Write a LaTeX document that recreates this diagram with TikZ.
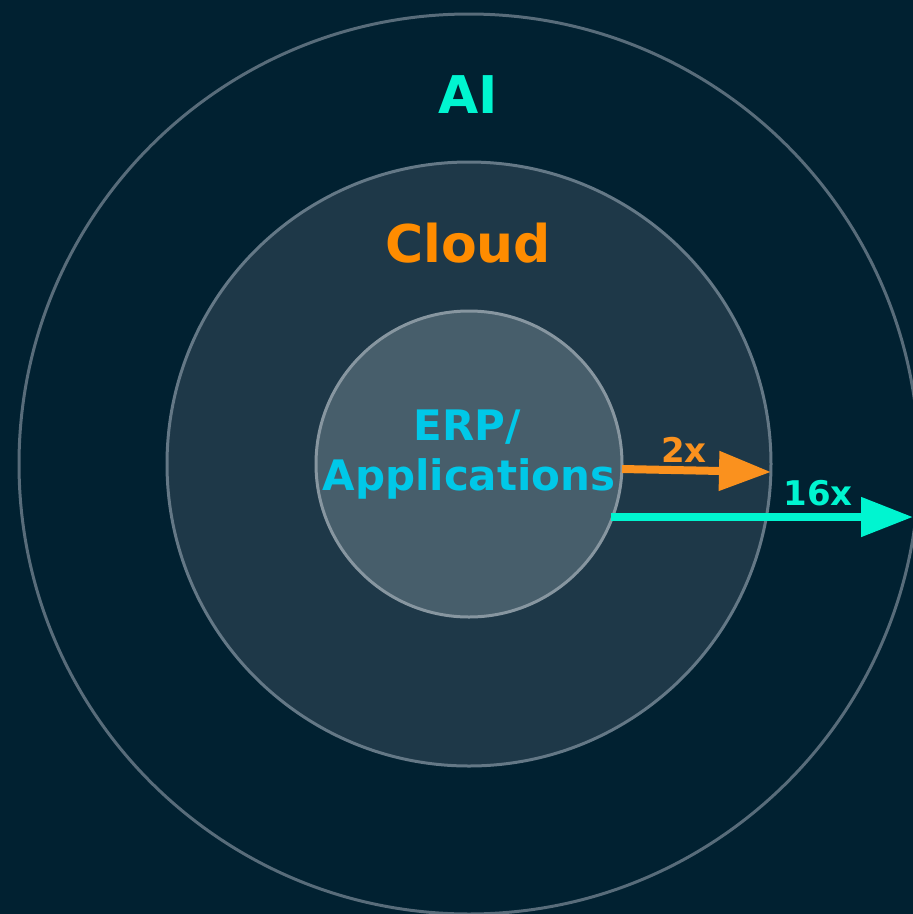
\documentclass[tikz,border=0pt]{standalone}
\usepackage{fontspec}
\setmainfont{DejaVu Sans}
\usetikzlibrary{arrows.meta}
\definecolor{bg}{RGB}{1,33,49}
\definecolor{midfill}{RGB}{30,56,72}
\definecolor{innerfill}{RGB}{71,94,107}
\definecolor{ringouter}{RGB}{88,108,122}
\definecolor{ringmid}{RGB}{100,120,134}
\definecolor{ringinner}{RGB}{135,150,160}
\definecolor{aicol}{RGB}{0,245,208}
\definecolor{cloudcol}{RGB}{255,140,0}
\definecolor{erpcol}{RGB}{0,200,232}
\definecolor{arroworange}{RGB}{250,145,30}
\begin{document}
\begin{tikzpicture}[x=1pt,y=-1pt,
  ring/.style={circle, inner sep=0pt, line width=3pt},
  lbl/.style={anchor=base, inner sep=0pt, font=\bfseries\fontsize{#1}{#1}\selectfont},
  bigarrow/.style={line width=8pt, -{Triangle[length=52pt,width=38pt]}}]
\fill[bg] (0,0) rectangle (913,914);
\useasboundingbox (0,0) rectangle (913,914);
\node[ring, minimum size=900pt, draw=ringouter] (ai) at (469,464) {};
\node[ring, minimum size=604pt, draw=ringmid, fill=midfill] (cloud) at (469,464) {};
\node[ring, minimum size=306pt, draw=ringinner, fill=innerfill] (erp) at (469,464) {};
\node[lbl=52, text=aicol] (ailbl) at (468,113) {AI};
\node[lbl=52, text=cloudcol] (cloudlbl) at (468,262) {Cloud};
\node[lbl=42, text=erpcol] (erplbl1) at (467,440) {ERP/};
\node[lbl=42, text=erpcol] (erplbl2) at (469,490) {Applications};
\coordinate (o1) at (622,469);
\coordinate (o2) at (771,472);
\coordinate (c1) at (611,517);
\coordinate (c2) at (913,517);
\draw[bigarrow, draw=arroworange, fill=arroworange] (o1) -- (o2);
\draw[bigarrow, draw=aicol, fill=aicol] (c1) -- (c2);
\node[lbl=34, text=arroworange] (twox) at (684,462) {2x};
\node[lbl=34, text=aicol] (sixteenx) at (818,505) {16x};
\end{tikzpicture}
\end{document}
